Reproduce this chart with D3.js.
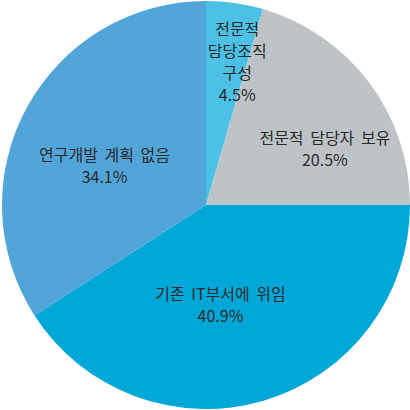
<!DOCTYPE html>
<html>
<head>
<meta charset="utf-8">
<script src="https://cdn.jsdelivr.net/npm/d3@7"></script>
<style>
  body { margin: 0; background: #fff; }
  svg text {
    font-family: "Noto Sans CJK KR", "Noto Sans", sans-serif;
    font-size: 16px;
    fill: #2a2a2a;
    word-spacing: 3px;
  }
</style>
</head>
<body>
<svg id="chart" width="410" height="410"></svg>
<script>
const categories = [
  ['전문적', '담당조직', '구성'],
  ['전문적 담당자 보유'],
  ['기존 IT부서에 위임'],
  ['연구개발 계획 없음']
]
const values = [4.5, 20.5, 40.9, 34.1]
const colors = ['#4cc1e5', '#bec3c7', '#00a7d7', '#52a5d9']

// small hand tweaks so labels sit where the original put them
const labelShift = [[14, -21], [21, 18], [-20, -16], [6, 21]]

const cx = 206
const cy = 205
const radius = 204
const lineHeight = 22

const svg = d3.select('#chart')
  .append('g')
  .attr('transform', `translate(${cx},${cy})`)

const pie = d3.pie().sort(null).value(d => d)
const arcs = pie(values)

const arc = d3.arc().innerRadius(0).outerRadius(radius)
const labelArc = d3.arc().innerRadius(0).outerRadius(radius * 1.2)

svg.selectAll('.slice')
    .data(arcs)
  .enter().append('path')
    .attr('class', 'slice')
    .attr('d', arc)
    .attr('fill', (d, i) => colors[i])

const labels = svg.selectAll('.label')
    .data(arcs)
  .enter().append('text')
    .attr('class', 'label')
    .attr('text-anchor', 'middle')
    .attr('transform', (d, i) => {
      const [x, y] = labelArc.centroid(d)
      return `translate(${x + labelShift[i][0]},${y + labelShift[i][1]})`
    })

labels.each(function (d, i) {
  const lines = categories[i].concat([d3.format('.1f')(values[i]) + '%'])
  const top = -(lines.length - 1) * lineHeight / 2 + 5
  d3.select(this).selectAll('tspan')
      .data(lines)
    .enter().append('tspan')
      .attr('x', 0)
      .attr('y', (t, j) => top + j * lineHeight)
      .text(t => t)
})
</script>
</body>
</html>
